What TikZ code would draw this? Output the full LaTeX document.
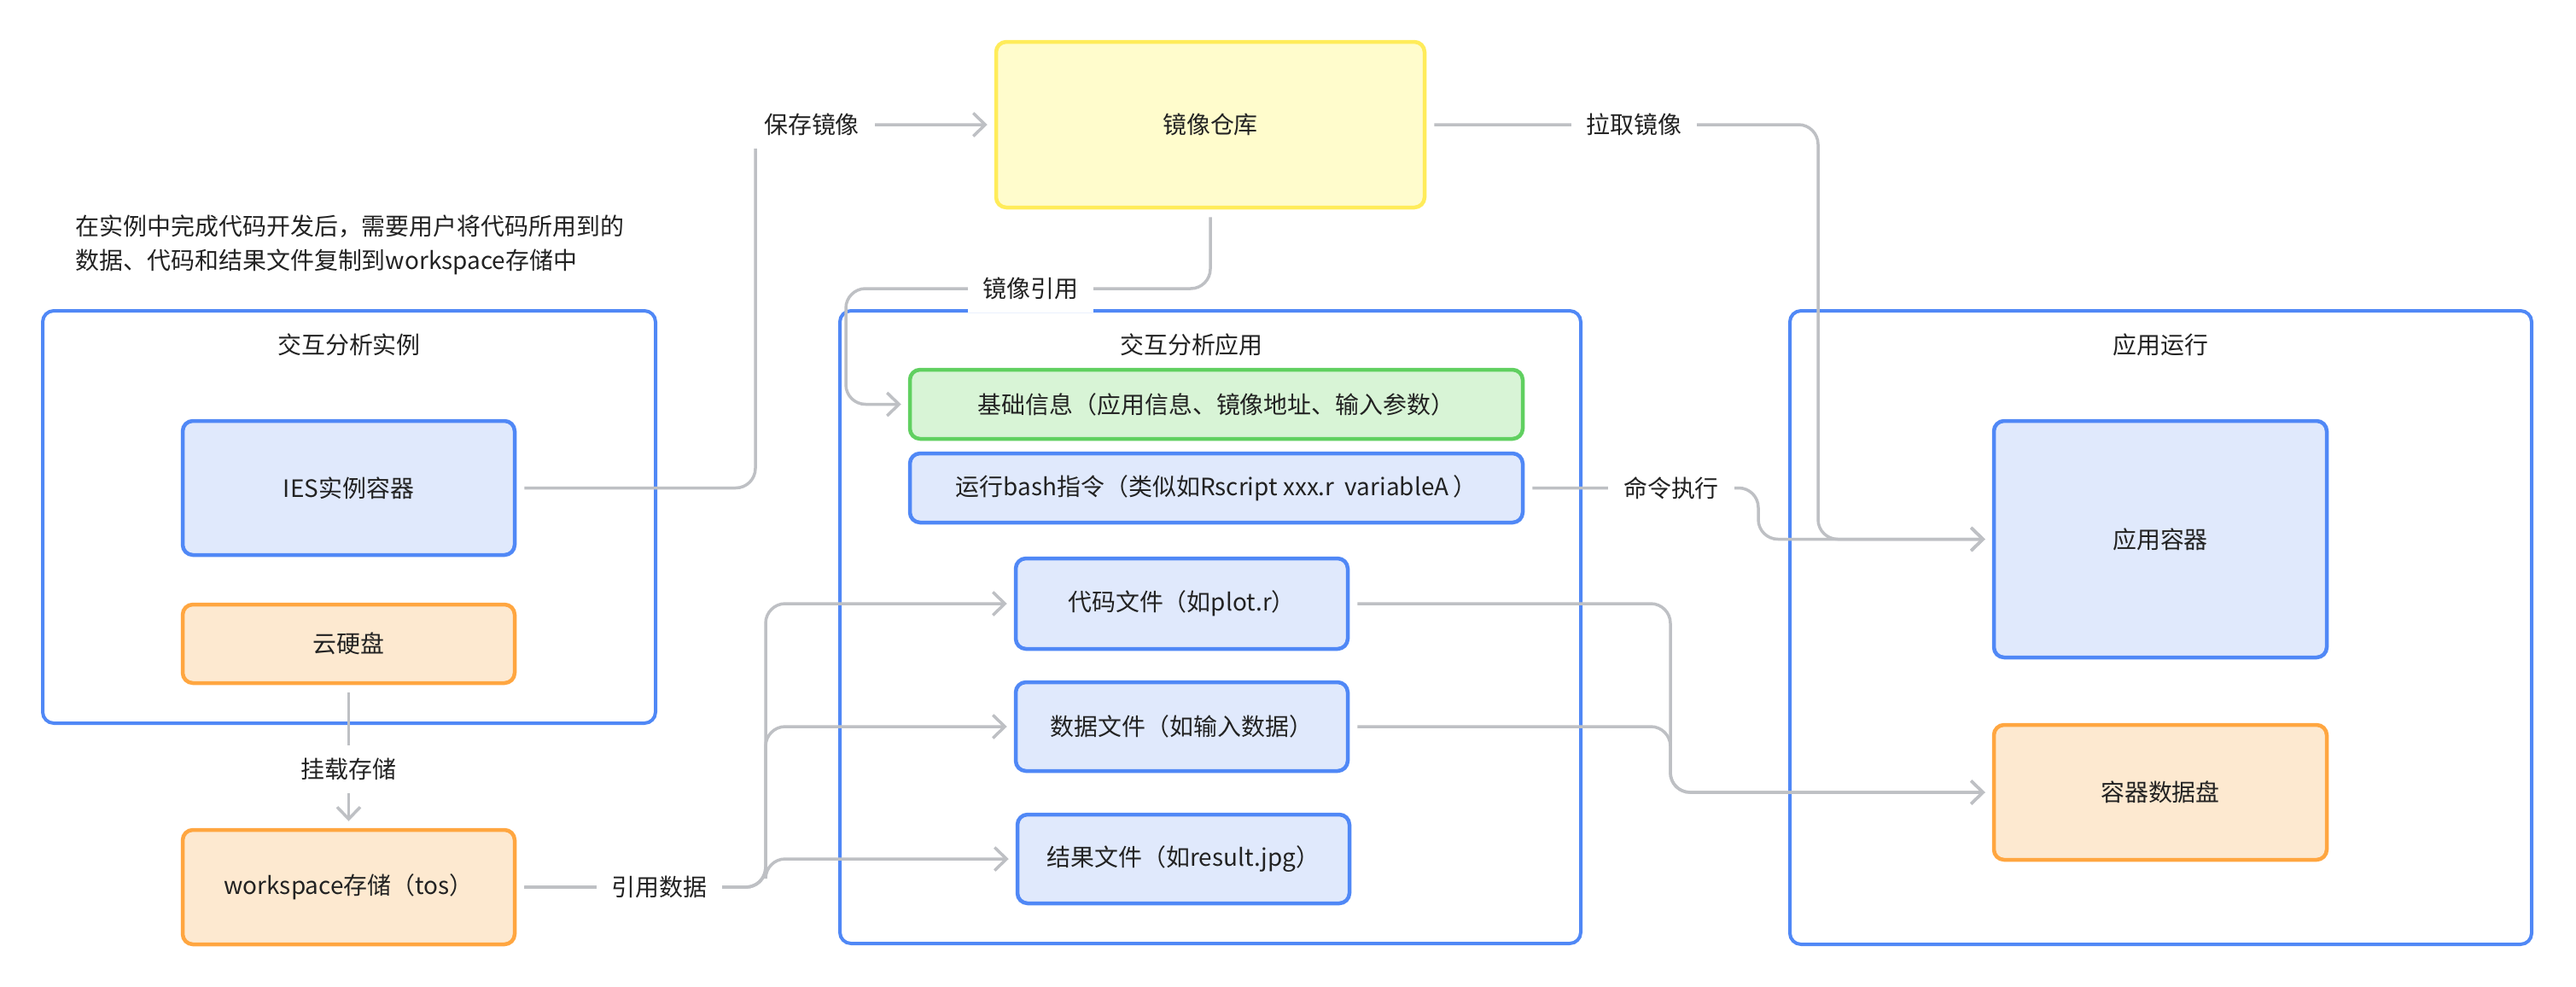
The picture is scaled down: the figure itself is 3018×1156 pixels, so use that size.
\documentclass[tikz,border=0pt]{standalone}
\usepackage{fontspec}
\setmainfont{Noto Sans CJK SC}
\usetikzlibrary{arrows.meta}
\definecolor{bblue}{HTML}{5088F6}
\definecolor{bfill}{HTML}{E0E9FC}
\definecolor{oline}{HTML}{FFA640}
\definecolor{ofill}{HTML}{FDE9D0}
\definecolor{yline}{HTML}{FFEC5A}
\definecolor{yfill}{HTML}{FFFCCC}
\definecolor{gline}{HTML}{60D060}
\definecolor{gfill}{HTML}{D8F4D6}
\definecolor{linegray}{HTML}{BEC0C4}
\definecolor{txt}{HTML}{222222}
\tikzset{
  cont/.style={draw=bblue, fill=white, rounded corners=1.3mm, line width=0.4mm, inner sep=0pt},
  box/.style={rounded corners=1.2mm, line width=0.45mm, inner sep=0pt, align=center, text=txt},
  bluebox/.style={box, draw=bblue, fill=bfill},
  orangebox/.style={box, draw=oline, fill=ofill},
  yellowbox/.style={box, draw=yline, fill=yfill},
  greenbox/.style={box, draw=gline, fill=gfill},
  conn/.style={draw=linegray, line width=0.35mm, rounded corners=2.3mm, shorten <=0.9mm, shorten >=0.8mm},
  arr/.style={conn, -{Straight Barb[length=1.4mm,width=2.7mm]}},
  lbl/.style={fill=white, inner xsep=1.8mm, inner ysep=1.5mm, text=txt},
  ttl/.style={text=txt, inner sep=0pt}
}
\begin{document}
\begin{tikzpicture}[x=0.1mm,y=-0.1mm,font=\fontsize{7.95pt}{11.4pt}\selectfont]
\fill[white] (0,0) rectangle (3018,1156);
\useasboundingbox (0,0) rectangle (3018,1156);

% note
\node[ttl, anchor=west, align=left] (note) at (88,287) {在实例中完成代码开发后，需要用户将代码所用到的\\数据、代码和结果文件复制到workspace存储中};

% containers
\node[cont, minimum width=71.8mm, minimum height=48.3mm] (inst) at (409,605.5) {};
\node[cont, minimum width=86.8mm, minimum height=74.1mm] (app) at (1418,734.5) {};
\node[cont, minimum width=86.9mm, minimum height=74.2mm] (run) at (2531.5,735) {};
\node[ttl] (instT) at (409,404) {交互分析实例};
\node[ttl] (appT) at (1396,404) {交互分析应用};
\node[ttl] (runT) at (2531.5,404) {应用运行};

% nodes
\node[bluebox, minimum width=38.9mm, minimum height=15.7mm] (ies) at (408.5,571.5) {IES实例容器};
\node[orangebox, minimum width=38.9mm, minimum height=9.2mm] (disk) at (408.5,754) {云硬盘};
\node[orangebox, minimum width=38.9mm, minimum height=13.4mm] (ws) at (408.5,1039) {workspace存储（tos）};
\node[yellowbox, minimum width=50.2mm, minimum height=19.4mm] (repo) at (1418,146) {镜像仓库};
\node[greenbox, minimum width=71.8mm, minimum height=8.1mm] (base) at (1425,473.5) {基础信息（应用信息、镜像地址、输入参数）};
\node[bluebox, minimum width=71.8mm, minimum height=8.1mm] (bash) at (1425,571.5) {运行bash指令（类似如Rscript xxx.r\ \ variableA\,）};
\node[bluebox, minimum width=38.9mm, minimum height=10.6mm] (code) at (1384.5,707) {代码文件（如plot.r）};
\node[bluebox, minimum width=38.9mm, minimum height=10.4mm] (data) at (1384.5,851) {数据文件（如输入数据）};
\node[bluebox, minimum width=38.9mm, minimum height=10.4mm] (res) at (1386.5,1006) {结果文件（如result.jpg）};
\node[bluebox, minimum width=39mm, minimum height=27.7mm] (ctr) at (2531,631.5) {应用容器};
\node[orangebox, minimum width=39mm, minimum height=15.8mm] (cdisk) at (2531,928) {容器数据盘};

% connectors
\draw[arr] (ies.east) -- (885,571.5) |- (repo.west);
\draw[arr] (repo.south) |- (991,338) |- (base.west);
\draw[arr] (repo.east) -| (2130,631.5) -- (ctr.west);
\draw[arr] (bash.east) -| (2060,631.5) -- (ctr.west);
\draw[arr] (disk.south) -- (ws.north);
\draw[arr] (ws.east) -| (897,707) -- (code.west);
\draw[arr] (ws.east) -| (897,851) -- (data.west);
\draw[arr] (ws.east) -| (897,1006) -- (res.west);
\draw[arr] (code.east) -| (1957,928) -- (cdisk.west);
\draw[arr] (data.east) -| (1957,928) -- (cdisk.west);

% labels
\node[lbl] (l1) at (951,146) {保存镜像};
\node[lbl] (l2) at (1207.5,338) {镜像引用};
\node[lbl] (l3) at (1914.5,146) {拉取镜像};
\node[lbl] (l4) at (1958,572) {命令执行};
\node[lbl] (l5) at (408.5,901) {挂载存储};
\node[lbl] (l6) at (772.5,1039) {引用数据};
\end{tikzpicture}
\end{document}
